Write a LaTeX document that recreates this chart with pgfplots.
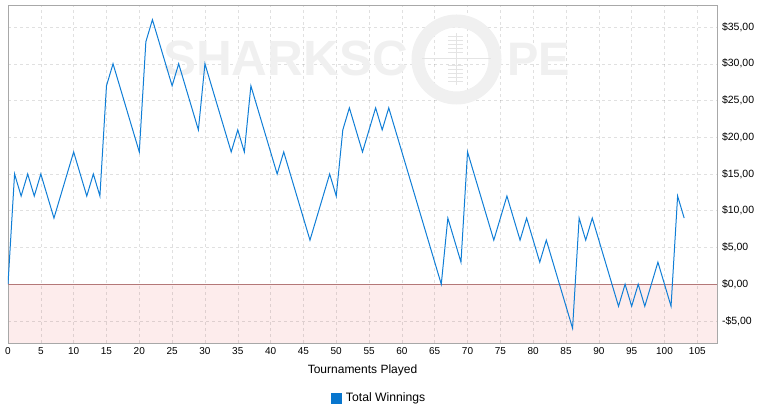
\documentclass[border=0pt]{standalone}
\usepackage{fontspec}
\setmainfont{Liberation Sans}
\usepackage{pgfplots}
\pgfplotsset{compat=1.18}
\definecolor{linec}{RGB}{16,126,214}
\definecolor{legc}{RGB}{8,118,206}
\definecolor{wm}{RGB}{240,240,240}
\definecolor{wm2}{RGB}{228,228,228}
\definecolor{negfill}{RGB}{253,236,236}
\definecolor{zeroc}{RGB}{180,120,120}
\definecolor{boxc}{RGB}{168,168,168}
\begin{document}
\begin{tikzpicture}
% watermark
\node[anchor=base west, inner sep=0pt, text=wm, font=\fontsize{49.5}{50}\selectfont\bfseries] at (155pt,267pt) {SHARKSC};
\draw[wm, line width=13pt] (448.5pt,283.5pt) circle (38.5pt);
\draw[wm2, line width=0.8pt] (414pt,284.5pt) -- (483pt,284.5pt);
\draw[wm2, line width=0.8pt] (448pt,258pt) -- (448pt,310pt);
\foreach \d in {262,266,270,274,278,291,295,299,303,307} {
  \draw[wm2, line width=0.6pt] (440pt,\d pt) -- (455pt,\d pt);
}
\node[anchor=base west, inner sep=0pt, text=wm, font=\fontsize{47}{50}\selectfont\bfseries] at (499pt,267pt) {PE};
\begin{axis}[
  at={(0pt,0pt)}, anchor=south west,
  scale only axis, width=709pt, height=338pt,
  xmin=0, xmax=108, ymin=-8, ymax=38,
  set layers,
  axis line style={boxc},
  xtick={0,5,...,105},
  ytick={-5,0,5,10,15,20,25,30,35},
  yticklabels={{-\$5,00},{\$0,00},{\$5,00},{\$10,00},{\$15,00},{\$20,00},{\$25,00},{\$30,00},{\$35,00}},
  yticklabel pos=right,
  major tick length=0pt,
  grid=major,
  grid style={black, opacity=0.12, dash pattern=on 3pt off 3pt, line width=0.5pt},
  /pgf/number format/assume math mode=true,
  xticklabel style={font=\fontsize{10}{12}\selectfont, yshift=-1pt},
  yticklabel style={font=\fontsize{10.5}{12}\selectfont, xshift=1.5pt},
  xlabel={Tournaments Played},
  xlabel style={font=\fontsize{12}{14}\selectfont, at={(axis description cs:0.5,0)}, anchor=center, yshift=-27pt},
  legend style={at={(axis description cs:0.5235,-0.163)}, anchor=center, draw=none, fill=none, font=\fontsize{12.2}{14}\selectfont},
  legend cell align=left,
]
\addplot[on layer=axis background, fill=negfill, draw=none, forget plot]
  coordinates {(0,-8)(108,-8)(108,0)(0,0)} -- cycle;
\addplot[zeroc, line width=0.7pt, forget plot] coordinates {(0,0)(108,0)};
\addplot[linec, line width=1pt, mark=none,
  legend image code/.code={\fill[legc] (-3pt,-5pt) rectangle (7pt,5pt); \path (9pt,0pt);}]
coordinates {
(0,0)(1,15)(2,12)(3,15)(4,12)(5,15)(6,12)(7,9)(8,12)(9,15)
(10,18)(11,15)(12,12)(13,15)(14,12)(15,27)(16,30)(17,27)(18,24)(19,21)
(20,18)(21,33)(22,36)(23,33)(24,30)(25,27)(26,30)(27,27)(28,24)(29,21)
(30,30)(31,27)(32,24)(33,21)(34,18)(35,21)(36,18)(37,27)(38,24)(39,21)
(40,18)(41,15)(42,18)(43,15)(44,12)(45,9)(46,6)(47,9)(48,12)(49,15)
(50,12)(51,21)(52,24)(53,21)(54,18)(55,21)(56,24)(57,21)(58,24)(59,21)
(60,18)(61,15)(62,12)(63,9)(64,6)(65,3)(66,0)(67,9)(68,6)(69,3)
(70,18)(71,15)(72,12)(73,9)(74,6)(75,9)(76,12)(77,9)(78,6)(79,9)
(80,6)(81,3)(82,6)(83,3)(84,0)(85,-3)(86,-6)(87,9)(88,6)(89,9)
(90,6)(91,3)(92,0)(93,-3)(94,0)(95,-3)(96,0)(97,-3)(98,0)(99,3)
(100,0)(101,-3)(102,12)(103,9)
};
\addlegendentry{Total Winnings}
\end{axis}
\pgfresetboundingbox
\path[use as bounding box] (-8pt,-77pt) rectangle (758pt,343pt);
\end{tikzpicture}
\end{document}
